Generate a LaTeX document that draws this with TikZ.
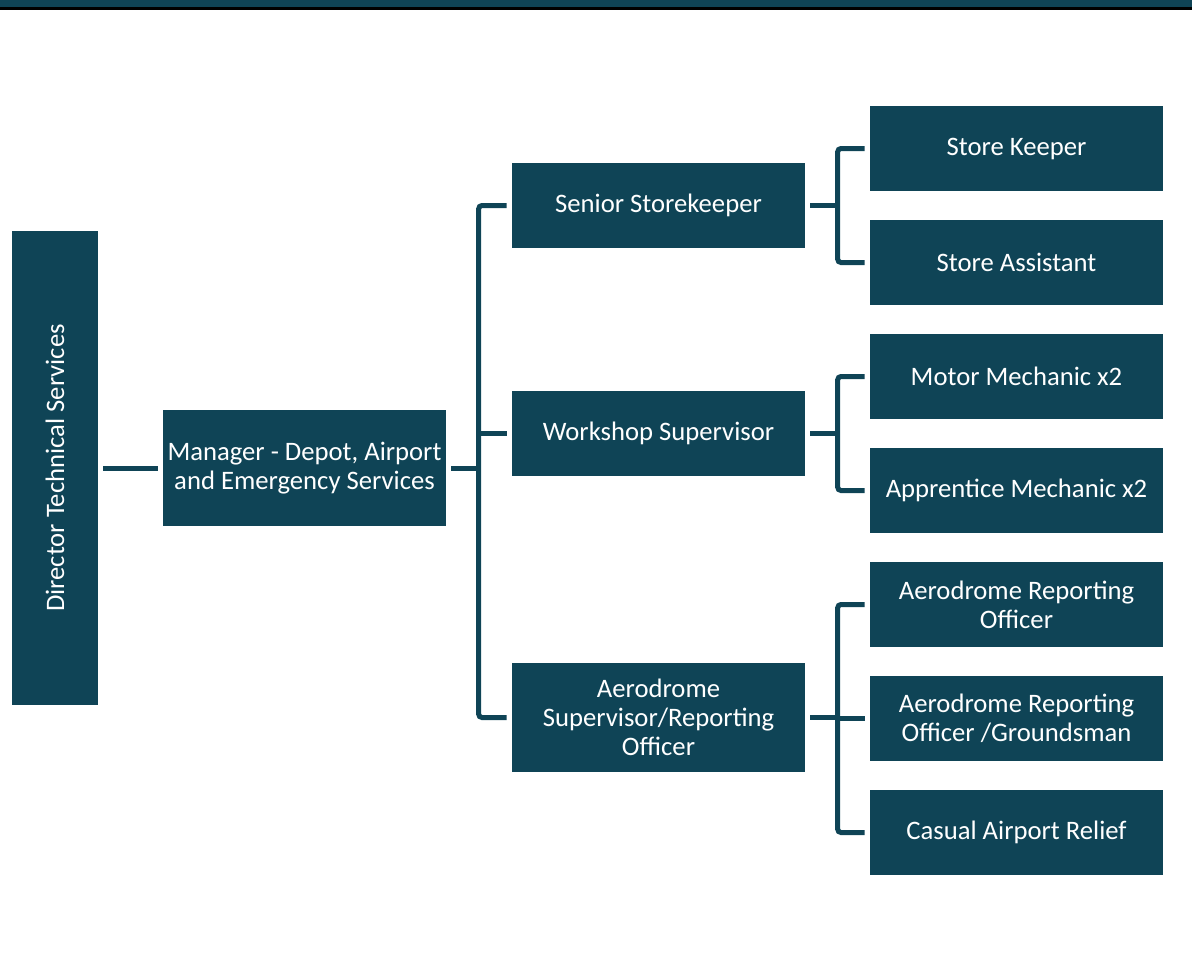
\documentclass[tikz,border=0pt]{standalone}
\usepackage{fontspec}
\setmainfont{Carlito}
\usepackage{xcolor}
\usepackage{tikz}
\usetikzlibrary{positioning,calc}
\definecolor{teal dark}{HTML}{0F4456}
\tikzset{
    box color/.style={fill=teal dark,text=white},
    role box/.style={box color,minimum width=219.75pt,minimum height=63.75pt,align=center,inner sep=2pt,outer sep=4pt,
        font=\fontsize{20}{21.75}\selectfont},
    link/.style={draw=teal dark,line width=3.75pt,rounded corners=2.5pt},
}

\begin{document}
\begin{tikzpicture}[x=0.75pt,y=-0.75pt]
        \useasboundingbox (0,0) rectangle (1192,972);
        \fill[teal dark] (0,0) rectangle (1192,7);
        \fill[black] (0,7) rectangle (1192,9.5);
        \node[role box,minimum width=64.5pt,minimum height=355.5pt] (dir) at (55,468) {\rotatebox{90}{Director Technical Services}};
        \node[role box,minimum width=212.25pt,minimum height=87pt] (mgr) at (304.5,468) {Manager - Depot, Airport\\and Emergency Services};
        \node[role box] (ss) at (658.5,205.5) {Senior Storekeeper};
        \node[role box] (ws) at (658.5,433.5) {Workshop Supervisor};
        \node[role box,minimum height=81.75pt] (as) at (658.5,717.5) {Aerodrome\\Supervisor/Reporting\\Officer};
        \node[role box] (sk) at (1016.5,148.5) {Store Keeper};
        \node[role box] (sa) at (1016.5,262.5) {Store Assistant};
        \node[role box] (mm) at (1016.5,376.5) {Motor Mechanic x2};
        \node[role box] (am) at (1016.5,490.5) {Apprentice Mechanic x2};
        \node[role box] (aro) at (1016.5,604.5) {Aerodrome Reporting\\Officer};
        \node[role box] (arg) at (1016.5,718.5) {Aerodrome Reporting\\Officer /Groundsman};
        \node[role box] (car) at (1016.5,832.5) {Casual Airport Relief};
        \draw[link] (dir.east) -- (mgr.west);
        \draw[link] (ss.west) -- ++(-28,0) coordinate (bus) |- (as.west);
        \draw[link] (ws.west) -- (ws.west -| bus);
        \draw[link] (mgr.east) -- (mgr.east -| bus);
        \foreach \a/\b/\c in {ss/sk/sa, ws/mm/am}{
            \draw[link] (\b.west) -- ++(-27,0) coordinate (sub) |- (\c.west);
            \draw[link] (\a.east) -- (\a.east -| sub);
        }
        \draw[link] (aro.west) -- ++(-27,0) coordinate (sub) |- (car.west);
        \draw[link] (arg.west) -- (arg.west -| sub);
        \draw[link] (as.east) -- (as.east -| sub);
    \end{tikzpicture}
\end{document}
